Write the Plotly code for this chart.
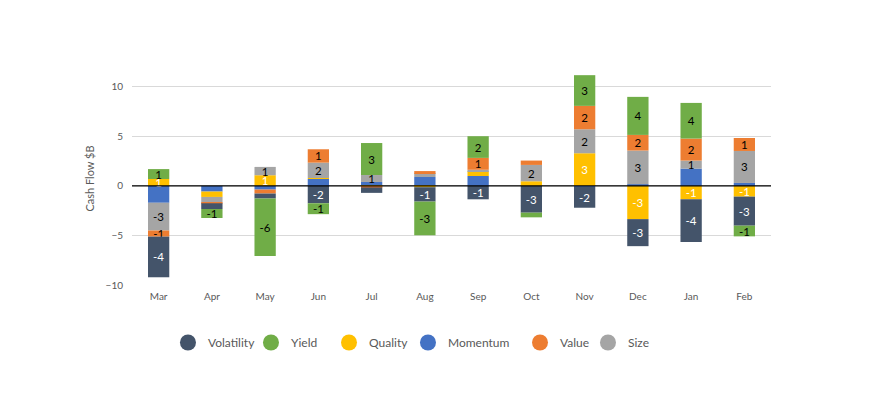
import plotly.graph_objects as go

months = ["Mar", "Apr", "May", "Jun", "Jul", "Aug", "Sep", "Oct", "Nov", "Dec", "Jan", "Feb"]

momentum = [-1.7, -0.57, -0.37, 0.7, 0.4, 0.9, 1.0, 0.0, -0.1, 0.17, 1.75, 0.3]
quality = [0.7, -0.54, 1.08, 0.1, -0.05, -0.13, 0.5, 0.47, 3.3, -3.35, -1.35, -1.08]
size = [-2.8, -0.57, 0.84, 1.55, 0.7, 0.4, 0.13, 1.65, 2.42, 3.4, 0.81, 3.23]
value = [-0.62, -0.07, -0.4, 1.35, -0.1, 0.2, 1.2, 0.44, 2.36, 1.58, 2.22, 1.31]
volatility = [-4.1, -0.58, -0.5, -1.75, -0.55, -1.45, -1.35, -2.7, -2.1, -2.73, -4.3, -2.93]
yield_ = [1.0, -0.91, -5.8, -1.1, 3.23, -3.4, 2.19, -0.47, 3.1, 3.84, 3.6, -1.08]

# stacking order (closest to zero first)
stack = [
    ("Momentum", momentum, "#4472C4", None),
    ("Quality", quality, "#FFC000", "white"),
    ("Size", size, "#A5A5A5", "black"),
    ("Value", value, "#ED7D31", "black"),
    ("Volatility", volatility, "#44546A", "white"),
    ("Yield", yield_, "#70AD47", "black"),
]
legend_order = ["Volatility", "Yield", "Quality", "Momentum", "Value", "Size"]
legend_x = [0.0563, 0.1862, 0.3083, 0.4319, 0.6072, 0.7136]
colors = {n: c for n, _, c, _ in stack}

FONT = "Lato, 'Liberation Sans', sans-serif"

fig = go.Figure()
for name, vals, color, tcol in stack:
    if tcol is None:
        text = ["" for v in vals]
    else:
        text = [f"{v:.0f}" if abs(v) >= 0.6 else "" for v in vals]
    fig.add_trace(go.Bar(
        x=months, y=vals, name=name, marker=dict(color=color, line=dict(width=0)),
        text=text, textposition="inside", insidetextanchor="middle", textangle=0,
        textfont=dict(color=tcol or "white", size=11.5, family=FONT),
        showlegend=False, hoverinfo="x+y+name",
    ))

legends = {}
for i, name in enumerate(legend_order):
    key = "legend" if i == 0 else f"legend{i + 1}"
    fig.add_trace(go.Scatter(
        x=[None], y=[None], mode="markers", name=name,
        marker=dict(symbol="circle", size=16, color=colors[name]),
        showlegend=True, legend=key,
    ))
    legends[key] = dict(orientation="h", x=legend_x[i], xanchor="left", y=-0.27, yanchor="middle",
                        font=dict(size=12, color="#595959", family=FONT), itemsizing="trace",
                        bgcolor="rgba(0,0,0,0)")

fig.add_shape(type="line", xref="paper", x0=0, x1=1, yref="y", y0=0, y1=0,
              line=dict(color="black", width=1.3), layer="above")

fig.update_layout(
    width=870, height=397,
    margin=dict(l=124, r=107, t=64, b=120, pad=0),
    barmode="relative", bargap=0.6,
    plot_bgcolor="white", paper_bgcolor="white",
    font=dict(family=FONT, size=10, color="#595959"),
    uniformtext=dict(minsize=11.5, mode="show"),
    showlegend=True,
    xaxis=dict(showgrid=False, showline=False, ticks="", ticklabelstandoff=4,
               tickfont=dict(size=10, color="#595959")),
    yaxis=dict(range=[-10, 11.5], dtick=5, tick0=0, showgrid=True, gridcolor="#D9D9D9", gridwidth=1,
               zeroline=False, showline=False, ticks="", ticklabelstandoff=8,
               tickfont=dict(size=10, color="#595959"),
               title=dict(text="Cash Flow $B", font=dict(size=11, color="#595959"), standoff=8)),
    **legends,
)

fig.write_html("out.html")
